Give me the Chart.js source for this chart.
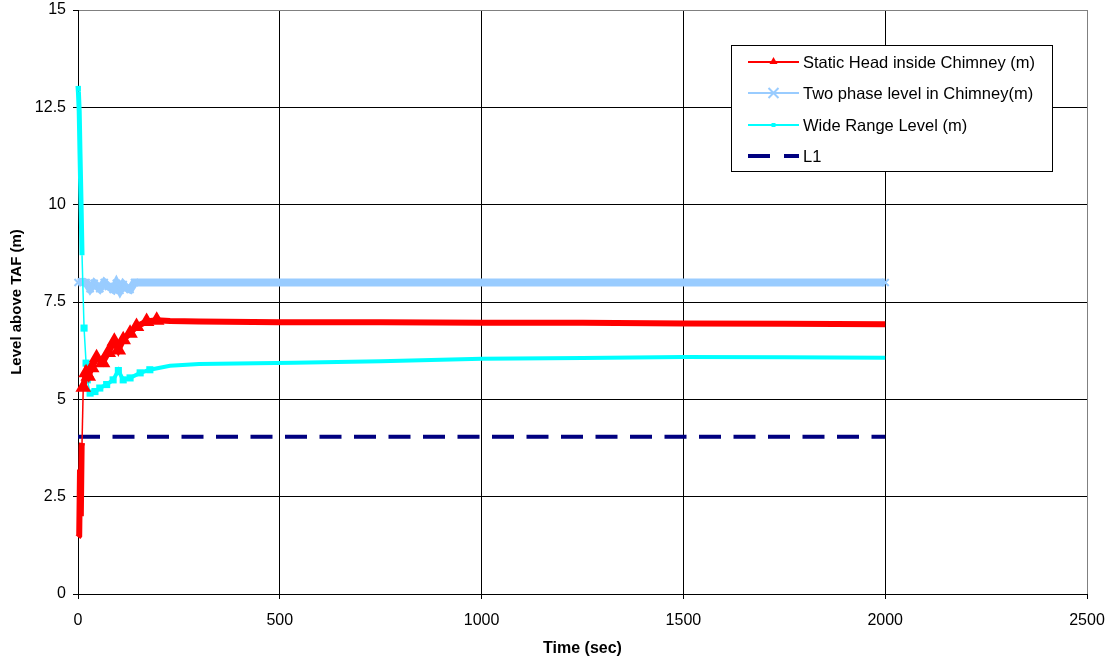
<!DOCTYPE html>
<html>
<head>
<meta charset="utf-8">
<script src="https://cdn.jsdelivr.net/npm/chart.js@4.4.0/dist/chart.umd.min.js"></script>
<style>
  html, body { margin: 0; padding: 0; background: #fff; }
  #wrap { width: 1112px; height: 662px; }
</style>
</head>
<body>
<div id="wrap"><canvas id="myChart" width="1112" height="662"></canvas></div>
<script>
// values (time in sec, level in m)
const staticTime = [0, 3, 5, 7, 9, 10, 13, 20, 25.5, 34, 46, 61, 75, 90, 100, 112, 129, 145, 170, 195, 228, 300, 500, 750, 1000, 1250, 1500, 1750, 2000];
const staticHead = [1.46, 1.5, 3.2, 2.0, 3.8, 3.88, 5.31, 5.68, 5.59, 5.81, 6.07, 5.94, 6.2, 6.49, 6.27, 6.53, 6.7, 6.87, 7.0, 7.03, 7.01, 7.0, 6.98, 6.98, 6.97, 6.97, 6.95, 6.94, 6.93];

const twoPhaseTime = [0, 10, 20, 30, 40, 54, 65, 75, 87, 95, 104, 112, 120, 129, 140, 2000];
const twoPhaseLevel = [8.0, 8.02, 8.0, 7.84, 7.98, 7.84, 8.0, 7.9, 7.82, 7.98, 7.8, 7.95, 7.86, 7.82, 8.0, 8.0];

const wideTime = [0, 1, 3, 5, 8, 10, 15, 20, 23, 30, 42, 54, 71, 87, 100, 112, 129, 154, 178, 228, 300, 535, 750, 1000, 1250, 1500, 1750, 2000];
const wideRange = [13.05, 12.9, 12.4, 11.3, 9.8, 8.7, 6.83, 5.93, 5.5, 5.16, 5.2, 5.29, 5.38, 5.5, 5.74, 5.5, 5.55, 5.68, 5.76, 5.86, 5.91, 5.94, 5.98, 6.04, 6.06, 6.09, 6.08, 6.07];

const l1Time = [0, 2000];
const l1Level = [4.04, 4.04];

const xTicks = [0, 500, 1000, 1500, 2000, 2500];
const yTicks = [0, 2.5, 5, 7.5, 10, 12.5, 15];

const seriesNames = ['Static Head inside Chimney (m)', 'Two phase level in Chimney(m)', 'Wide Range Level (m)', 'L1'];

const fontFam = '"Liberation Sans", Arial, sans-serif';

function pts(xs, ys) {
  return xs.map((x, i) => ({ x: x, y: ys[i] }));
}

// markers only show up as separate shapes in the early, sparse part
function earlyRadius(r) {
  return c => (c.raw && c.raw.x > 10 && c.raw.x <= 200) ? r : 0;
}

const legendBox = {
  id: 'legendBox',
  afterDraw(chart) {
    const c = chart.ctx;
    c.save();
    c.fillStyle = '#fff';
    c.fillRect(731, 45, 321, 126);
    c.strokeStyle = '#000';
    c.lineWidth = 1;
    c.strokeRect(731.5, 45.5, 321, 126);

    const rows = [62, 93, 125, 156];
    const x0 = 748, x1 = 799, xm = 773.5;

    // red + triangle
    c.strokeStyle = '#ff0000'; c.lineWidth = 2;
    c.beginPath(); c.moveTo(x0, rows[0]); c.lineTo(x1, rows[0]); c.stroke();
    c.fillStyle = '#ff0000';
    c.beginPath(); c.moveTo(xm, rows[0] - 5); c.lineTo(xm + 4, rows[0] + 2); c.lineTo(xm - 4, rows[0] + 2); c.closePath(); c.fill();

    // light blue + x
    c.strokeStyle = '#99ccff'; c.lineWidth = 2;
    c.beginPath(); c.moveTo(x0, rows[1]); c.lineTo(x1, rows[1]); c.stroke();
    c.beginPath();
    c.moveTo(xm - 5, rows[1] - 5); c.lineTo(xm + 5, rows[1] + 5);
    c.moveTo(xm + 5, rows[1] - 5); c.lineTo(xm - 5, rows[1] + 5);
    c.stroke();

    // cyan + small marker
    c.strokeStyle = '#00ffff'; c.lineWidth = 2;
    c.beginPath(); c.moveTo(x0, rows[2]); c.lineTo(x1, rows[2]); c.stroke();
    c.fillStyle = '#00ffff';
    c.fillRect(xm - 2, rows[2] - 2, 4, 4);

    // navy dashes
    c.strokeStyle = '#000080'; c.lineWidth = 4;
    c.beginPath(); c.moveTo(x0, rows[3]); c.lineTo(770, rows[3]); c.moveTo(784, rows[3]); c.lineTo(x1, rows[3]); c.stroke();

    c.fillStyle = '#000';
    c.font = '16.5px ' + fontFam;
    c.textBaseline = 'middle';
    c.textAlign = 'left';
    seriesNames.forEach((n, i) => c.fillText(n, 803, rows[i] + 1));
    c.restore();
  }
};

const ctx = document.getElementById('myChart');

new Chart(ctx, {
  type: 'scatter',
  data: {
    datasets: [
      {
        label: seriesNames[3],
        data: pts(l1Time, l1Level),
        showLine: true,
        borderColor: '#000080',
        borderWidth: 4,
        borderDash: [22, 12.5],
        pointRadius: 0,
        order: 4
      },
      {
        label: seriesNames[1],
        data: pts(twoPhaseTime, twoPhaseLevel),
        showLine: true,
        borderColor: '#99ccff',
        borderWidth: 8,
        pointStyle: 'crossRot',
        pointRadius: 5,
        pointBorderWidth: 2,
        pointBorderColor: '#99ccff',
        clip: 10,
        order: 3
      },
      {
        label: seriesNames[2],
        data: pts(wideTime, wideRange),
        showLine: true,
        borderColor: '#00ffff',
        borderWidth: 4,
        segment: {
          borderWidth: s => (s.p0.parsed.x >= 10 && s.p1.parsed.x <= 30) ? 1.5 : (s.p0.parsed.x < 10 ? 5 : 4)
        },
        pointStyle: 'rect',
        pointRadius: earlyRadius(2.2),
        pointBackgroundColor: '#00ffff',
        pointBorderColor: '#00ffff',
        clip: 10,
        order: 2
      },
      {
        label: seriesNames[0],
        data: pts(staticTime, staticHead),
        showLine: true,
        borderColor: '#ff0000',
        borderWidth: 6,
        segment: {
          borderWidth: s => (s.p0.parsed.x >= 10 && s.p1.parsed.x <= 13) ? 1.5 : 6
        },
        pointStyle: 'triangle',
        pointRadius: earlyRadius(3),
        pointBackgroundColor: '#ff0000',
        pointBorderColor: '#ff0000',
        clip: 10,
        order: 1
      }
    ]
  },
  options: {
    responsive: false,
    animation: false,
    layout: { padding: { left: 0, top: 10, right: 25, bottom: 0 } },
    plugins: {
      legend: { display: false },
      tooltip: { enabled: false }
    },
    scales: {
      x: {
        type: 'linear',
        min: 0,
        max: 2500,
        afterBuildTicks: s => { s.ticks = xTicks.map(v => ({ value: v })); },
        afterFit: s => { s.height = 68; s.paddingLeft = 0; s.paddingRight = 0; },
        grid: {
          color: c => c.tick && c.tick.value === 2500 ? '#808080' : '#000',
          lineWidth: 1,
          tickLength: 5,
          tickColor: '#000'
        },
        border: { color: '#000', width: 1 },
        ticks: {
          color: '#000',
          font: { family: fontFam, size: 16 },
          padding: 12,
          maxRotation: 0,
          callback: v => String(v)
        },
        title: {
          display: true,
          text: 'Time (sec)',
          color: '#000',
          font: { family: fontFam, size: 16, weight: 'bold' },
          padding: { top: 6 }
        }
      },
      y: {
        min: 0,
        max: 15,
        afterBuildTicks: s => { s.ticks = yTicks.map(v => ({ value: v })); },
        afterFit: s => { s.width = 78; s.paddingTop = 0; s.paddingBottom = 0; },
        grid: {
          color: c => c.tick && c.tick.value === 15 ? '#808080' : '#000',
          lineWidth: 1,
          tickLength: 5,
          tickColor: '#000'
        },
        border: { color: '#000', width: 1 },
        ticks: {
          color: '#000',
          font: { family: fontFam, size: 16 },
          padding: 7,
          callback: v => String(v)
        },
        title: {
          display: true,
          text: 'Level above TAF (m)',
          color: '#000',
          font: { family: fontFam, size: 15, weight: 'bold' },
          padding: { top: 8, bottom: 0 }
        }
      }
    }
  },
  plugins: [legendBox]
});
</script>
</body>
</html>
